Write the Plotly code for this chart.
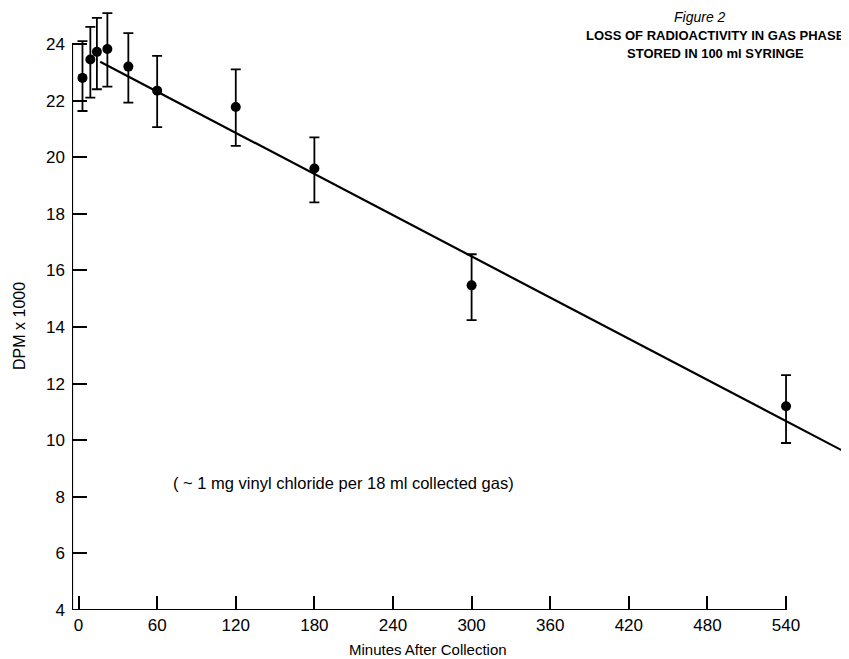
import plotly.graph_objects as go

# Data
minutes = [3, 9, 14, 22, 38, 60, 120, 180, 300, 540]
dpm_k = [22.8, 23.45, 23.72, 23.82, 23.2, 22.35, 21.77, 19.6, 15.47, 11.2]
err_plus = [1.3, 1.15, 1.2, 1.27, 1.18, 1.23, 1.33, 1.1, 1.1, 1.1]
err_minus = [1.17, 1.35, 1.32, 1.33, 1.27, 1.29, 1.37, 1.2, 1.23, 1.3]

# Fitted line endpoints (as drawn)
fit_x = [16.5, 583.5]
fit_y = [23.37, 9.62]

x_ticks = [0, 60, 120, 180, 240, 300, 360, 420, 480, 540]
y_ticks = [4, 6, 8, 10, 12, 14, 16, 18, 20, 22, 24]

FONT = "Liberation Sans, Arial, Helvetica, sans-serif"

fig = go.Figure()

fig.add_trace(go.Scatter(
    x=fit_x, y=fit_y, mode="lines",
    line=dict(color="black", width=2.2),
    hoverinfo="skip", showlegend=False,
))

fig.add_trace(go.Scatter(
    x=minutes, y=dpm_k, mode="markers",
    marker=dict(color="black", size=10),
    error_y=dict(type="data", symmetric=False, array=err_plus, arrayminus=err_minus,
                 color="black", thickness=1.8, width=5),
    showlegend=False,
))

# axis lines (only span the labelled range)
fig.add_shape(type="line", x0=-5, x1=540, y0=4, y1=4, xref="x", yref="y",
              line=dict(color="black", width=2.2))
fig.add_shape(type="line", x0=-5, x1=-5, y0=4, y1=24, xref="x", yref="y",
              line=dict(color="black", width=2.2))

fig.update_xaxes(
    range=[-5, 585], tickvals=x_ticks, ticktext=[str(v) for v in x_ticks],
    ticks="inside", ticklen=14, tickwidth=2, tickcolor="black",
    showgrid=False, zeroline=False, showline=False, ticklabelstandoff=3,
    tickfont=dict(family=FONT, size=17, color="black"),
)
fig.update_yaxes(
    range=[4, 25.27], tickvals=y_ticks, ticktext=[str(v) for v in y_ticks],
    ticks="inside", ticklen=15, tickwidth=2, tickcolor="black",
    showgrid=False, zeroline=False, showline=False, ticklabelstandoff=6,
    tickfont=dict(family=FONT, size=17, color="black"),
)

fig.add_annotation(text="<i>Figure 2</i>", xref="paper", yref="paper",
                   x=0.8124, y=1.0, showarrow=False, xanchor="center", yanchor="top",
                   borderpad=0, font=dict(family=FONT, size=14, color="black"))
fig.add_annotation(text="<b>LOSS OF RADIOACTIVITY IN GAS PHASE</b>", xref="paper", yref="paper",
                   x=0.833, y=0.9551, showarrow=False, xanchor="center", yanchor="middle",
                   borderpad=0, font=dict(family=FONT, size=13, color="black"))
fig.add_annotation(text="<b>STORED IN 100 ml SYRINGE</b>", xref="paper", yref="paper",
                   x=0.833, y=0.9252, showarrow=False, xanchor="center", yanchor="middle",
                   borderpad=0, font=dict(family=FONT, size=13, color="black"))
fig.add_annotation(text="( ~ 1 mg vinyl chloride per 18 ml collected gas)", xref="x", yref="y",
                   x=202, y=8.5, showarrow=False, xanchor="center", yanchor="middle",
                   font=dict(family=FONT, size=16.5, color="black"))
fig.add_annotation(text="Minutes After Collection", xref="paper", yref="paper",
                   x=0.4605, y=-0.0648, showarrow=False, xanchor="center", yanchor="middle",
                   font=dict(family=FONT, size=15, color="black"))
fig.add_annotation(text="DPM x 1000", xref="paper", yref="paper",
                   x=-0.0673, y=0.4718, showarrow=False, xanchor="center", yanchor="middle",
                   textangle=-90, font=dict(family=FONT, size=16, color="black"))

# the page body adds an 8px offset; size the figure so the plot lands where the reference has it
fig.update_layout(
    width=841, height=651,
    margin=dict(l=64, r=4, t=0, b=49),
    paper_bgcolor="white", plot_bgcolor="white",
    font=dict(family=FONT, color="black"),
)

fig.write_html("out.html")
